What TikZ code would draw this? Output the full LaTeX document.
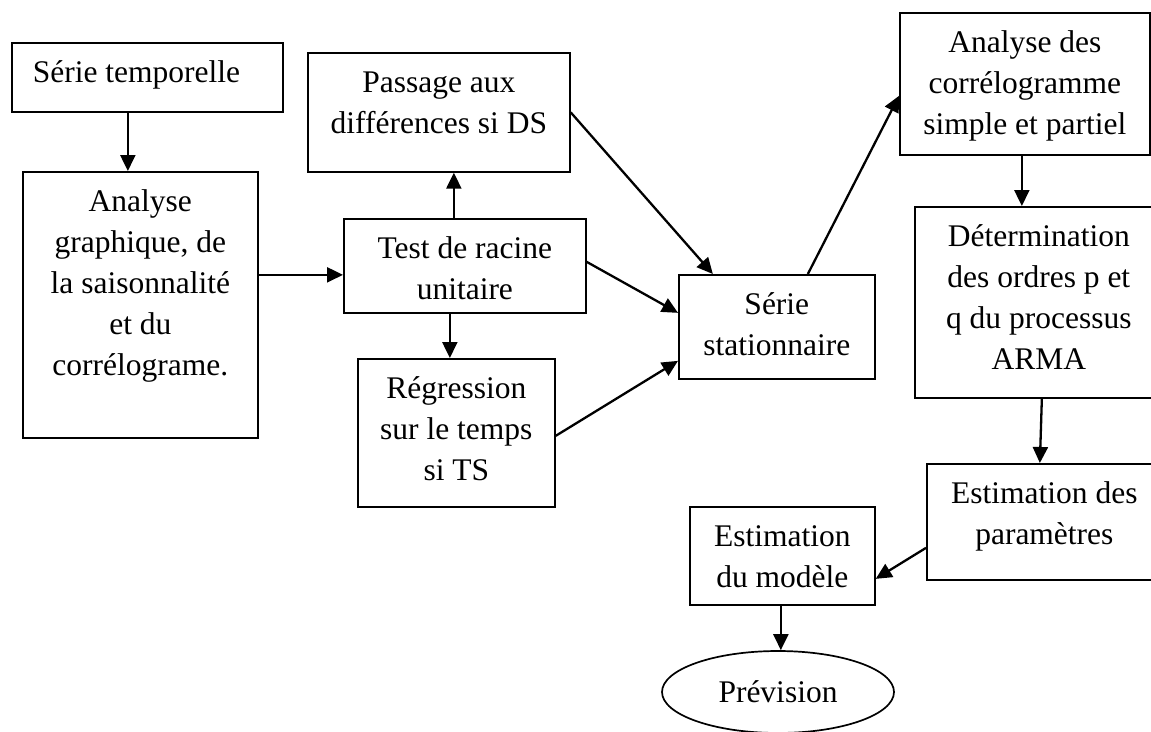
\documentclass[tikz,border=0pt]{standalone}
\usepackage{fontspec}
\setmainfont{Liberation Serif}
\usetikzlibrary{arrows.meta,shapes.geometric}

% top-aligned, centred text block of a given width and height
\newcommand{\boxtxt}[3]{\parbox[c][#2][t]{#1}{\centering\rule{0pt}{40pt}#3}}

\begin{document}
\begin{tikzpicture}[x=1pt,y=-1pt,
  font=\fontsize{31.5}{41}\selectfont,
  box/.style={draw, line width=1.7pt, rectangle, inner sep=0pt, anchor=north west},
  oval/.style={draw, line width=1.7pt, ellipse, inner sep=0pt},
  arr/.style={line width=2.3pt, -{Triangle[length=16pt,width=15pt]}}]

\useasboundingbox (0,0) rectangle (1151,731);
\fill[white] (0,0) rectangle (1151,731);
\clip (0,0) rectangle (1151,731);

% left column
\node[box] (ts) at (11,42) {\parbox[c][69pt][t]{271pt}{\rule{0pt}{40pt}\hspace*{21pt}Série temporelle}};
\node[box] (ag) at (22,171) {\boxtxt{235pt}{266pt}{Analyse\\graphique, de\\la saisonnalité\\et du\\corrélograme.}};

% stationarity tests
\node[box] (pas) at (307,52) {\boxtxt{262pt}{119pt}{Passage aux\\différences si DS}};
\node[box] (test) at (343,218) {\boxtxt{242pt}{94pt}{Test de racine\\unitaire}};
\node[box] (reg) at (357,358) {\boxtxt{197pt}{148pt}{Régression\\sur le temps\\si TS}};
\node[box] (ser) at (678,274) {\boxtxt{196pt}{104pt}{Série\\stationnaire}};

% identification and estimation
\node[box] (ad) at (899,12) {\boxtxt{250pt}{142pt}{Analyse des\\corrélogramme\\simple et partiel}};
\node[box] (det) at (914,206) {\boxtxt{248pt}{191pt}{Détermination\\des ordres p et\\q du processus\\ARMA}};
\node[box] (ed) at (926,463) {\boxtxt{235pt}{116pt}{Estimation des\\paramètres}};
\node[box] (em) at (689,506) {\boxtxt{185pt}{98pt}{Estimation\\du modèle}};
\node[oval, minimum width=232pt, minimum height=82pt] (prev) at (778,692) {Prévision};

% connectors
\draw[arr] ([xshift=-19.5pt]ts.south) -- ([xshift=-12.5pt]ag.north);
\draw[arr] ([yshift=30pt]ag.east) -- ([yshift=30pt]ag.east -| test.west);
\draw[arr] ([xshift=-11pt]test.north) -- ([xshift=-11pt]test.north |- pas.south);
\draw[arr] ([xshift=-15pt]test.south) -- ([xshift=-15pt]test.south |- reg.north);
\draw[arr] (pas.east) -- ([xshift=-64pt]ser.north);
\draw[arr] ([yshift=4pt]test.east) -- ([yshift=14pt]ser.west);
\draw[arr] ([yshift=-3pt]reg.east) -- ([yshift=-34pt]ser.west);
\draw[arr] ([xshift=31pt]ser.north) -- ([yshift=-12pt]ad.west);
\draw[arr] ([xshift=-3pt]ad.south) -- ([xshift=-3pt]ad.south |- det.north);
\draw[arr] ([xshift=3pt]det.south) -- ([xshift=-4.5pt]ed.north);
\draw[arr] ([yshift=-26pt]ed.west) -- ([yshift=-23pt]em.east);
\draw[arr] ([xshift=-1.5pt]em.south) -- ([xshift=-1.5pt]em.south |- prev.north);

\end{tikzpicture}
\end{document}
